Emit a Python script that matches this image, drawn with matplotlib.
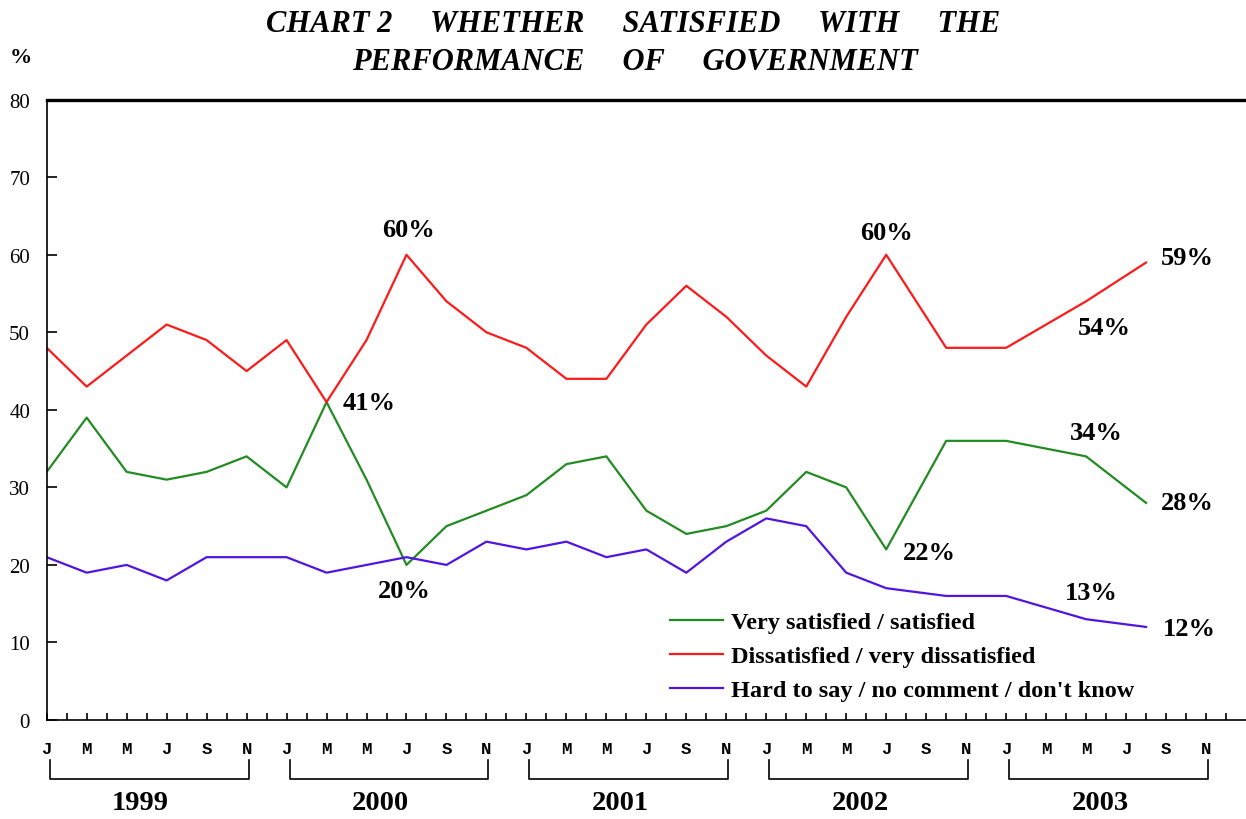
import matplotlib
matplotlib.use("Agg")
import matplotlib.pyplot as plt
from matplotlib.transforms import blended_transform_factory

# survey months, counted from Jan 1999
survey_month = [0, 2, 4, 6, 8, 10, 12, 14, 16, 18, 20, 22,
                24, 26, 28, 30, 32, 34, 36, 38, 40, 42, 45, 48, 52, 55]

satisfied = [32, 39, 32, 31, 32, 34, 30, 41, 31, 20, 25, 27,
             29, 33, 34, 27, 24, 25, 27, 32, 30, 22, 36, 36, 34, 28]
dissatisfied = [48, 43, 47, 51, 49, 45, 49, 41, 49, 60, 54, 50,
                48, 44, 44, 51, 56, 52, 47, 43, 52, 60, 48, 48, 54, 59]
no_comment = [21, 19, 20, 18, 21, 21, 21, 19, 20, 21, 20, 23,
              22, 23, 21, 22, 19, 23, 26, 25, 19, 17, 16, 16, 13, 12]

series_names = ["Very satisfied / satisfied",
                "Dissatisfied / very dissatisfied",
                "Hard to say / no comment / don't know"]
series_colors = ["#228b22", "#ff1a1a", "#5214e0"]

month_letters = ["J", "M", "M", "J", "S", "N"]
years = ["1999", "2000", "2001", "2002", "2003"]

# labelled points: (series index, point index, dx, dy) offsets in pixels
callouts = [
    (1, 9, 2, 25), (0, 7, 43, 0), (0, 9, -2, -26),
    (1, 21, 0, 22), (0, 21, 43, -3), (0, 24, 10, 24),
    (1, 24, 18, -26), (0, 25, 41, 0), (1, 25, 41, 5),
    (2, 24, 5, 27), (2, 25, 43, -2),
]

serif = "Liberation Serif"
mono = "Liberation Mono"

fig = plt.figure(figsize=(12.46, 8.2), dpi=100)
ax = fig.add_axes([46.7 / 1246, 99 / 820, 1 - 46.7 / 1246, 620.3 / 820])

all_series = [satisfied, dissatisfied, no_comment]
for vals, name, col in zip(all_series, series_names, series_colors):
    ax.plot(survey_month, vals, color=col, lw=1.6, label=name)

for s, i, dx, dy in callouts:
    v = all_series[s][i]
    ax.annotate(f"{v}%", (survey_month[i], v), xytext=(dx, dy),
                textcoords="offset pixels", ha="center", va="center",
                fontsize=19, fontweight="bold", family=serif)

ax.set_xlim(0, 60)
ax.set_ylim(0, 80)

ax.spines["right"].set_visible(False)
ax.spines["top"].set_linewidth(2.4)
ax.spines["left"].set_linewidth(1.2)
ax.spines["bottom"].set_linewidth(1.2)

ax.set_yticks(range(0, 81, 10))
ax.tick_params(axis="y", direction="in", length=7, width=1.2, pad=12,
               labelsize=15)
for lab in ax.get_yticklabels():
    lab.set_family(serif)

ax.set_xticks(range(0, 60, 2))
ax.set_xticklabels(month_letters * len(years), family=mono,
                   fontweight="bold", fontsize=12.5)
ax.set_xticks(range(1, 61, 2), minor=True)
ax.tick_params(axis="x", which="both", direction="in", length=5, width=1.2,
               pad=15)

# year brackets under the month letters
trans = blended_transform_factory(ax.transData, fig.transFigure)
y_top = 1 - 760.7 / 820
y_bar = 1 - 780 / 820
for k, yr in enumerate(years):
    x0 = 12 * k + 0.15
    x1 = 12 * k + 10.1
    ax.plot([x0, x0, x1, x1], [y_top, y_bar, y_bar, y_top], color="black",
            lw=1.2, transform=trans, clip_on=False)
    ax.text(12 * k + 4.7, 1 - 804 / 820, yr, transform=trans, ha="center",
            va="center", fontsize=20.5, fontweight="bold", family=serif)

leg = ax.legend(loc="upper left", bbox_to_anchor=(670 / 1246, 1 - 612 / 820),
                bbox_transform=fig.transFigure, frameon=False, borderpad=0,
                borderaxespad=0, handlelength=2.2, handletextpad=0.3,
                labelspacing=0.5,
                prop={"family": serif, "weight": "bold", "size": 17.5})
for line in leg.get_lines():
    line.set_linewidth(1.6)

fig.text(633 / 1246, 1 - 24 / 820,
         "CHART 2     WHETHER     SATISFIED     WITH     THE",
         ha="center", va="center", fontsize=22, fontweight="bold",
         fontstyle="italic", family=serif)
fig.text(635 / 1246, 1 - 62 / 820,
         "PERFORMANCE     OF     GOVERNMENT",
         ha="center", va="center", fontsize=22, fontweight="bold",
         fontstyle="italic", family=serif)
fig.text(21 / 1246, 1 - 58 / 820, "%", ha="center", va="center",
         fontsize=16, fontweight="bold", family=serif)

fig.savefig("out.png", dpi=100)
